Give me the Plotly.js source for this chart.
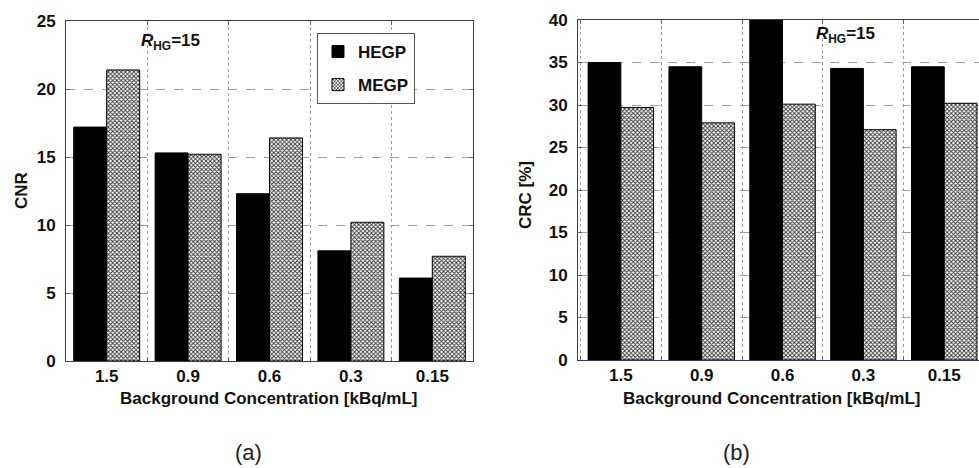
<!DOCTYPE html>
<html><head><meta charset="utf-8">
<script src="https://cdn.plot.ly/plotly-3.0.1.min.js"></script>
<style>html,body{margin:0;padding:0;background:#fff;overflow:hidden}#chart{width:979px;height:468px}</style>
</head><body><div id="chart"></div><script>
const categories = ["1.5", "0.9", "0.6", "0.3", "0.15"];
const cnrHEGP = [17.2, 15.3, 12.3, 8.1, 6.1];
const cnrMEGP = [21.4, 15.2, 16.4, 10.2, 7.7];
const crcHEGP = [35.0, 34.5, 41.5, 34.3, 34.5];
const crcMEGP = [29.7, 27.9, 30.1, 27.1, 30.2];
const seriesNames = ["HEGP", "MEGP"];

const W = 979, H = 468;
const px = v => v / W, py = v => 1 - v / H;
const FONT = "Liberation Sans, Arial, sans-serif";
const bold = (s) => ({family: FONT, size: s, color: "#111", weight: "bold"});

const solid = {color: "#000", line: {color: "#000", width: 1}};
const hatch = {color: "#fff", line: {color: "#000", width: 1},
  pattern: {shape: "x", size: 3, solidity: 0.5, fgcolor: "#333", bgcolor: "#fff"}};

const traces = [
  {type: "bar", name: seriesNames[0], x: categories, y: cnrHEGP, xaxis: "x", yaxis: "y", marker: solid, legendgroup: "a"},
  {type: "bar", name: seriesNames[1], x: categories, y: cnrMEGP, xaxis: "x", yaxis: "y", marker: hatch, legendgroup: "b"},
  {type: "bar", name: seriesNames[0], x: categories, y: crcHEGP, xaxis: "x2", yaxis: "y2", marker: solid, showlegend: false},
  {type: "bar", name: seriesNames[1], x: categories, y: crcMEGP, xaxis: "x2", yaxis: "y2", marker: hatch, showlegend: false}
];

const axLine = "#3a3a5e";
const xBase = {
  type: "category", tickson: "boundaries", ticks: "inside", ticklen: 4, tickcolor: "#666",
  showline: true, linecolor: axLine, linewidth: 1,
  showgrid: true, gridcolor: "#a0a0a0", griddash: "dot", gridwidth: 1,
  tickfont: bold(17), fixedrange: true, zeroline: false, ticklabelstandoff: 0
};
const yBase = {
  ticks: "inside", ticklen: 4, tickcolor: "#666", dtick: 5,
  showline: true, linecolor: axLine, linewidth: 1,
  showgrid: true, gridcolor: "#a0a0a0", griddash: "dash", gridwidth: 1,
  tickfont: bold(17), zeroline: false, ticklabelstandoff: 6, fixedrange: true
};

const ann = (text, x, y, font, extra) => Object.assign({
  text: text, xref: "paper", yref: "paper", x: px(x), y: py(y),
  xanchor: "center", yanchor: "middle", showarrow: false, font: font
}, extra || {});

const layout = {
  width: W, height: H,
  margin: {l: 0, r: 0, t: 0, b: 0},
  paper_bgcolor: "#fff", plot_bgcolor: "#fff",
  bargap: 0.19, barmode: "group",
  font: {family: FONT, color: "#111"},
  xaxis: Object.assign({}, xBase, {domain: [px(66), px(473)], range: [-0.5, 4.5], anchor: "y", mirror: "ticks"}),
  yaxis: Object.assign({}, yBase, {domain: [py(361), py(21)], range: [0, 25], anchor: "x", mirror: "ticks"}),
  xaxis2: Object.assign({}, xBase, {domain: [px(578), 1], range: [-0.53, 4.43], anchor: "y2", mirror: "ticks"}),
  yaxis2: Object.assign({}, yBase, {domain: [py(360), py(20)], range: [0, 40], anchor: "x2", mirror: false}),
  showlegend: true,
  legend: {
    x: px(317), y: py(33), xanchor: "left", yanchor: "top",
    bgcolor: "#fff", bordercolor: "#555", borderwidth: 1,
    font: bold(17), traceorder: "grouped", tracegroupgap: 8,
    itemclick: false, itemdoubleclick: false
  },
  annotations: [
    ann("<i>R</i><sub>HG</sub>=15", 170, 42, bold(17)),
    ann("<i>R</i><sub>HG</sub>=15", 845, 35, bold(17)),
    ann("Background Concentration [kBq/mL]", 269, 398, bold(17)),
    ann("Background Concentration [kBq/mL]", 772, 398, bold(17)),
    ann("CNR", 21, 191, bold(17), {textangle: -90}),
    ann("CRC [%]", 525, 195, bold(17), {textangle: -90}),
    ann("(a)", 248, 452, {family: FONT, size: 22, color: "#222"}),
    ann("(b)", 736, 452, {family: FONT, size: 22, color: "#222"})
  ]
};

Plotly.newPlot("chart", traces, layout, {displayModeBar: false, staticPlot: true});
</script></body></html>
